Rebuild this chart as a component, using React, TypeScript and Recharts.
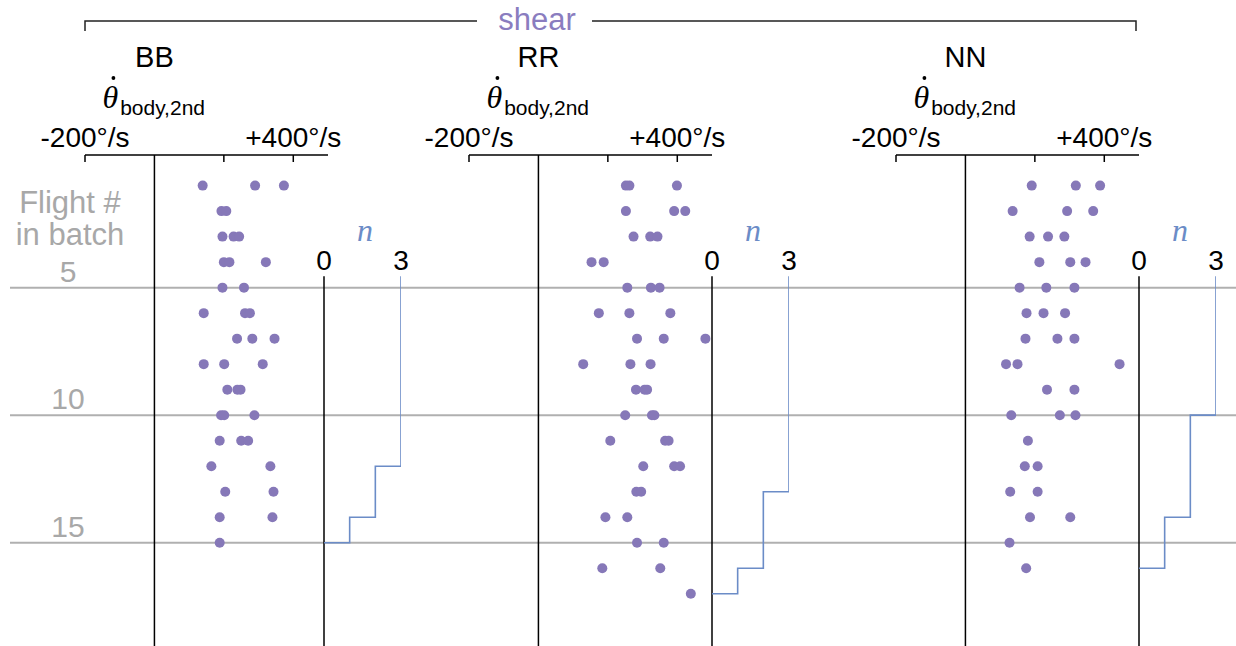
import React from "react";
import {
  ScatterChart,
  Scatter,
  LineChart,
  Line,
  XAxis,
  YAxis,
  ReferenceLine,
  ReferenceDot,
} from "recharts";

// flight # runs down the page, shared by every chart
const FLIGHT_DOMAIN: [number, number] = [-0.2, 19.05];
const GRID_FLIGHTS = [5, 10, 15];

const RATE_DOMAIN: [number, number] = [-200, 500];
const RATE_TICKS = [-200, 0, 200, 400];
const RATE_TICK_LABELS: Record<string, string> = { "-200": "-200°/s", "400": "+400°/s" };

const N_DOMAIN: [number, number] = [0, 3];
const N_TICKS = [0, 3];

// body pitch rate (deg/s), one row per flight in batch
const BB_RATES = [
  [139, 290, 373],
  [193, 207],
  [196, 228, 244],
  [200, 216, 321],
  [196, 258],
  [142, 261, 275],
  [238, 282, 346],
  [142, 201, 312],
  [210, 239, 248],
  [192, 201, 288],
  [188, 250, 270],
  [164, 334],
  [204, 343],
  [188, 340],
  [188],
];

const RR_RATES = [
  [252, 262, 399],
  [252, 391, 423],
  [274, 322, 343],
  [153, 188],
  [256, 324, 349],
  [174, 262, 380],
  [284, 361, 481],
  [129, 265, 323],
  [281, 306, 313],
  [250, 327, 334],
  [207, 365, 375],
  [302, 391, 408],
  [282, 296],
  [193, 256],
  [284, 361],
  [184, 351],
  [439],
];

const NN_RATES = [
  [191, 318, 388],
  [136, 293, 368],
  [185, 238, 285],
  [213, 302, 346],
  [156, 233, 314],
  [176, 225, 287],
  [173, 265, 314],
  [117, 150, 444],
  [235, 314],
  [132, 272, 317],
  [180],
  [171, 208],
  [129, 208],
  [186, 302],
  [127],
  [175],
];

// n steps down at these flights
const STEP_N = [3, 2, 1, 0];
const BB_STEP_FLIGHTS = [4.55, 12, 14, 15];
const RR_STEP_FLIGHTS = [4.55, 13, 16, 17];
const NN_STEP_FLIGHTS = [4.55, 10, 14, 16];

const W = 1236;
const H = 646;
const PLOT_TOP = 155;
const AXIS_H = 30;
const TICK_GAP = 8;
const PAD = 60;
const RATE_W = 243;
const N_W = 77;

const DOT = "#8678b8";
const BLUE = "#6b8cc7";
const GRAY = "#b0b0b0";
const LABEL_GRAY = "#a8a8a8";
const SANS = "'Liberation Sans', Arial, sans-serif";
const SERIF = "'Liberation Serif', 'DejaVu Serif', serif";

const PANELS = [
  { name: "BB", rates: BB_RATES, steps: BB_STEP_FLIGHTS, axisLeft: 85, nLeft: 324 },
  { name: "RR", rates: RR_RATES, steps: RR_STEP_FLIGHTS, axisLeft: 469, nLeft: 712 },
  { name: "NN", rates: NN_RATES, steps: NN_STEP_FLIGHTS, axisLeft: 896, nLeft: 1139 },
];

const renderRateTick = (props: any) => {
  const { x, y, payload } = props;
  const axisY = y + TICK_GAP;
  const label = RATE_TICK_LABELS[String(payload.value)];
  return (
    <g>
      {payload.value !== 0 && (
        <line x1={x} x2={x} y1={axisY} y2={axisY + 7} stroke="#000" strokeWidth={1.5} />
      )}
      {label && (
        <text x={x} y={y} textAnchor="middle" fontSize={28} fill="#000" fontFamily={SANS}>
          {label}
        </text>
      )}
    </g>
  );
};

function RatePanel({ p }: { p: (typeof PANELS)[number] }) {
  const pts = p.rates.flatMap((row, i) => row.map((v) => ({ f: i + 1, v })));
  return (
    <div style={{ position: "absolute", left: p.axisLeft - PAD, top: 0 }}>
      <ScatterChart
        width={RATE_W + 2 * PAD}
        height={H}
        margin={{ top: PLOT_TOP - AXIS_H, right: PAD, bottom: 0, left: PAD }}
      >
        <XAxis
          type="number"
          dataKey="v"
          orientation="top"
          height={AXIS_H}
          domain={RATE_DOMAIN}
          allowDataOverflow
          ticks={RATE_TICKS}
          interval={0}
          tickLine={false}
          tickSize={0}
          tickMargin={TICK_GAP}
          axisLine={{ stroke: "#000", strokeWidth: 1.5 }}
          tick={renderRateTick}
        />
        <YAxis type="number" dataKey="f" domain={FLIGHT_DOMAIN} allowDataOverflow reversed hide />
        <ReferenceLine x={0} stroke="#000" strokeWidth={1.5} />
        <Scatter
          data={pts}
          fill={DOT}
          isAnimationActive={false}
          shape={(s: any) => <circle cx={s.cx} cy={s.cy} r={5} fill={DOT} />}
        />
      </ScatterChart>
    </div>
  );
}

function StepPanel({ p }: { p: (typeof PANELS)[number] }) {
  const data = p.steps.map((f, i) => ({ f, n: STEP_N[i] }));
  const top = p.steps[0];
  // vertical layout already runs the number axis top-down, so no "reversed" here
  return (
    <div style={{ position: "absolute", left: p.nLeft - PAD, top: 0 }}>
      <LineChart
        layout="vertical"
        width={N_W + 2 * PAD}
        height={H}
        data={data}
        margin={{ top: PLOT_TOP, right: PAD, bottom: 0, left: PAD }}
      >
        <XAxis type="number" dataKey="n" domain={N_DOMAIN} allowDataOverflow hide />
        <YAxis type="number" dataKey="f" domain={FLIGHT_DOMAIN} allowDataOverflow hide />
        <ReferenceLine
          segment={[
            { x: 0, y: top },
            { x: 0, y: FLIGHT_DOMAIN[1] },
          ]}
          stroke="#000"
          strokeWidth={1.5}
        />
        {N_TICKS.map((n) => (
          <ReferenceDot
            key={n}
            x={n}
            y={top}
            r={0}
            fill="none"
            stroke="none"
            label={{ value: String(n), position: "top", offset: 6, fontSize: 28, fill: "#000", fontFamily: SANS }}
          />
        ))}
        <Line
          dataKey="n"
          type="stepBefore"
          stroke={BLUE}
          strokeWidth={1.6}
          dot={false}
          isAnimationActive={false}
        />
      </LineChart>
    </div>
  );
}

export default function App() {
  const gridRows = GRID_FLIGHTS.map((f) => ({ f }));
  return (
    <div
      style={{
        position: "absolute",
        left: 0,
        top: 0,
        width: W,
        height: H,
        background: "#fff",
        fontFamily: SANS,
      }}
    >
      <div style={{ position: "absolute", left: 0, top: 0 }}>
        <LineChart width={W} height={H} data={gridRows} margin={{ top: PLOT_TOP, right: 0, bottom: 0, left: 10 }}>
          <XAxis type="number" domain={[0, 1]} hide />
          <YAxis type="number" dataKey="f" domain={FLIGHT_DOMAIN} allowDataOverflow reversed hide />
          {GRID_FLIGHTS.map((f) => (
            <ReferenceLine
              key={f}
              y={f}
              stroke={GRAY}
              strokeWidth={2}
              label={{
                value: String(f),
                position: "insideBottomLeft",
                offset: 0,
                dx: 58,
                dy: -6,
                fontSize: 30,
                fill: LABEL_GRAY,
                fontFamily: SANS,
                textAnchor: "middle",
              }}
            />
          ))}
        </LineChart>
      </div>

      {PANELS.map((p) => (
        <RatePanel key={p.name} p={p} />
      ))}
      {PANELS.map((p) => (
        <StepPanel key={p.name + "-n"} p={p} />
      ))}

      <svg width={W} height={H} style={{ position: "absolute", left: 0, top: 0, pointerEvents: "none" }}>
        <path d="M85 31V21H477M592 21H1136V31" fill="none" stroke="#222" strokeWidth={1.5} />
        <text x={537} y={30} textAnchor="middle" fontSize={31} fill="#8a7dbf" fontFamily={SANS}>
          shear
        </text>
        {PANELS.map((p) => {
          const zx = p.axisLeft + (RATE_W * (0 - RATE_DOMAIN[0])) / (RATE_DOMAIN[1] - RATE_DOMAIN[0]);
          return (
            <g key={p.name}>
              <text x={zx} y={67} textAnchor="middle" fontSize={29} fill="#000" fontFamily={SANS}>
                {p.name}
              </text>
              {/* the time-derivative dot over theta */}
              <circle cx={zx - 41} cy={78} r={1.9} fill="#000" />
              <text x={zx - 52} y={108} fill="#000" fontFamily={SERIF} fontSize={32}>
                <tspan fontStyle="italic">{"\u03b8"}</tspan>
                <tspan dx={2} dy={7} fontFamily={SANS} fontSize={21}>
                  body,2nd
                </tspan>
              </text>
              <text
                x={p.nLeft + 41}
                y={241}
                textAnchor="middle"
                fontFamily={SERIF}
                fontStyle="italic"
                fontSize={32}
                fill={BLUE}
              >
                n
              </text>
            </g>
          );
        })}
        <text x={70} y={213} textAnchor="middle" fontSize={31} fill={LABEL_GRAY} fontFamily={SANS}>
          Flight #
        </text>
        <text x={70} y={245} textAnchor="middle" fontSize={31} fill={LABEL_GRAY} fontFamily={SANS}>
          in batch
        </text>
      </svg>
    </div>
  );
}
